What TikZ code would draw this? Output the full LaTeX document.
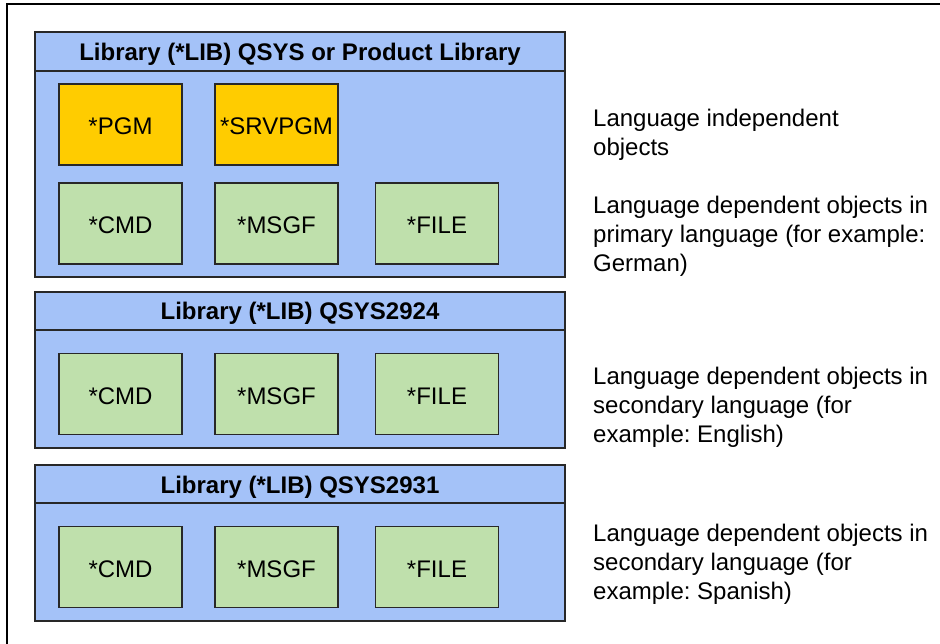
\documentclass[tikz,border=0pt]{standalone}
\usepackage{fontspec}
\setmainfont{Liberation Sans}
\usepackage{xcolor}
\usepackage{tikz}
\usetikzlibrary{positioning}
\definecolor{librarycolor}{RGB}{164, 194, 248}
\definecolor{programcolor}{RGB}{255, 204, 0}
\definecolor{objectcolor}{RGB}{191, 224, 172}
\definecolor{edgecolor}{RGB}{40, 40, 40}
\frenchspacing

\tikzset{
  libbox/.style={draw=edgecolor, fill=librarycolor, line width=1.2pt, minimum width=530pt, inner sep=0pt},
  libhead/.style={draw=edgecolor, fill=librarycolor, line width=1.2pt, minimum width=530pt, minimum height=38pt, inner sep=0pt, text height=18pt, text depth=0pt, font=\fontsize{24}{29}\selectfont\bfseries},
  objbox/.style={draw=edgecolor, line width=1.2pt, minimum width=123pt, minimum height=81pt, inner sep=0pt, text height=21pt, text depth=0pt, font=\fontsize{24}{29}\selectfont},
  note/.style={anchor=west, align=left, inner sep=0pt, font=\fontsize{24}{29}\selectfont}
}

\begin{document}
\begin{tikzpicture}[x=1pt, y=-1pt]
    \useasboundingbox (0,0) rectangle (940,644);
    % Frame
    \draw[line width=1.3pt] (7,644) -- (7,4) -- (940,4);

    % Library QSYS or product library
    \node[libbox, minimum height=245pt] (qsys) at (300,154.5) {};
    \node[libhead, minimum height=39pt, anchor=north] (qsyshead) at (qsys.north) {Library (*LIB) QSYS or Product Library};
    \node[objbox, fill=programcolor] (pgm) at (120.5,124.5) {*PGM};
    \node[objbox, fill=programcolor] (srvpgm) at (276.5,124.5) {*SRVPGM};
    \node[objbox, fill=objectcolor] (cmd1) at (120.5,223.5) {*CMD};
    \node[objbox, fill=objectcolor] (msgf1) at (276.5,223.5) {*MSGF};
    \node[objbox, fill=objectcolor] (file1) at (437,223.5) {*FILE};

    % Library QSYS2924
    \node[libbox, minimum height=156pt] (qsysen) at (300,370) {};
    \node[libhead, anchor=north] (qsysenhead) at (qsysen.north) {Library (*LIB) QSYS2924};
    \node[objbox, fill=objectcolor] (cmd2) at (120.5,394) {*CMD};
    \node[objbox, fill=objectcolor] (msgf2) at (276.5,394) {*MSGF};
    \node[objbox, fill=objectcolor] (file2) at (437,394) {*FILE};

    % Library QSYS2931
    \node[libbox, minimum height=156pt] (qsyses) at (300,543) {};
    \node[libhead, anchor=north] (qsyseshead) at (qsyses.north) {Library (*LIB) QSYS2931};
    \node[objbox, fill=objectcolor] (cmd3) at (120.5,567) {*CMD};
    \node[objbox, fill=objectcolor] (msgf3) at (276.5,567) {*MSGF};
    \node[objbox, fill=objectcolor] (file3) at (437,567) {*FILE};

    % Notes
    \node[note] (indep) at (593,134.5) {Language independent\\objects};
    \node[note] (primary) at (593,236.5) {Language dependent objects in\\primary language (for example:\\German)};
    \node[note] (english) at (593,407) {Language dependent objects in\\secondary language (for\\example: English)};
    \node[note] (spanish) at (593,564.5) {Language dependent objects in\\secondary language (for\\example: Spanish)};
\end{tikzpicture}
\end{document}
